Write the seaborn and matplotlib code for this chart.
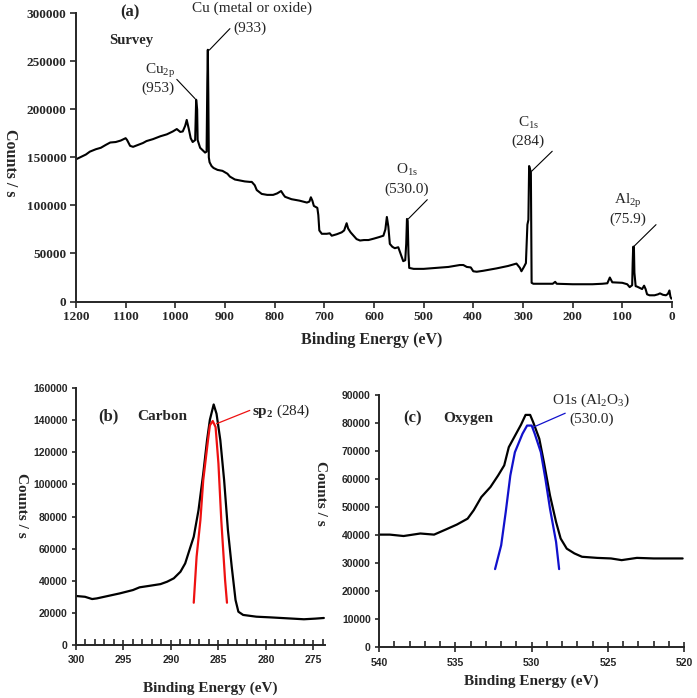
import numpy as np
import pandas as pd
import matplotlib
matplotlib.use("Agg")
import matplotlib.pyplot as plt
import seaborn as sns

# Survey spectrum (a)
survey_be = [1200, 1190, 1180, 1172, 1160, 1150, 1140, 1131, 1120, 1110, 1100, 1097, 1091, 1085,
             1075, 1065, 1058, 1045, 1030, 1017, 1005, 997, 990, 985, 980, 977, 973, 969, 965,
             960, 958, 956, 955, 950, 944, 940, 937, 935.5, 934.5, 933.5, 932.5, 931, 927, 923,
             915, 905, 895, 890, 880, 870, 860, 850, 846, 840, 836, 826, 815, 803, 795, 787, 782,
             779, 766, 750, 735, 730, 727, 724, 721, 714, 712, 710, 705, 695, 689, 685, 675, 665,
             660, 655, 652, 647, 640, 635, 628, 620, 611, 600, 590, 581, 577, 574, 571, 568, 563,
             558, 551, 545, 541, 537, 535, 533.5, 532, 530.5, 529, 520, 500, 474, 450, 427, 420,
             413, 405, 400, 393, 380, 353, 330, 313, 306, 303, 298, 294, 291, 289, 287.5, 286,
             284, 282.5, 279, 260, 240, 235, 232, 200, 160, 140, 130, 125, 120, 100, 90, 85, 80,
             79, 78, 76.5, 75.5, 73, 70, 60, 56, 53, 50, 45, 35, 28, 24, 18, 12, 8, 5, 3, 1]
survey_counts = [148000, 150500, 153000, 156000, 158500, 160000, 163000, 165500, 166000, 167500,
                 170000, 168000, 162000, 161000, 163000, 165000, 167000, 169000, 172000, 174000,
                 177000, 179500, 176500, 177000, 183000, 189000, 180000, 170000, 166000, 168000,
                 210000, 200000, 168000, 160000, 157000, 155000, 156000, 230000, 262000, 215000,
                 150000, 145000, 141000, 139000, 137000, 136000, 133000, 130000, 127000, 126000,
                 125000, 124500, 124500, 121000, 116000, 112000, 111000, 111000, 112500, 115000,
                 111000, 109000, 106500, 105000, 103000, 104000, 108500, 105000, 99500, 97500,
                 90000, 74000, 70500, 70500, 71000, 68500, 70000, 72000, 74000, 81500, 76000,
                 72000, 68000, 65000, 63500, 64000, 64000, 65500, 67000, 68500, 75000, 88000,
                 78000, 60000, 57000, 55500, 56500, 48000, 42000, 43000, 60000, 86000, 84000,
                 50000, 35000, 34000, 34000, 35000, 36000, 38000, 38000, 36000, 35500, 31500,
                 31000, 32000, 34500, 37000, 39500, 35000, 31500, 36000, 40000, 80000, 85000,
                 141000, 138000, 135000, 19500, 18500, 18500, 18500, 20500, 18500, 18000, 18000,
                 18500, 19000, 25000, 20000, 19500, 18000, 15000, 17000, 40000, 57000, 57000,
                 30000, 16000, 15500, 13000, 16500, 13000, 7500, 6500, 6500, 7500, 8500, 7000,
                 6500, 8000, 11500, 5000, 3000]

# Carbon region (b)
carbon_be = [300, 299.05, 298.3, 297.8, 295.4, 294.0, 293.3, 292.4, 291.1, 290.4, 289.7, 289.0,
             288.5, 288.0, 287.6, 287.1, 286.6, 286.2, 285.9, 285.5, 285.2, 284.8, 284.4, 284.0,
             283.6, 283.2, 282.9, 282.4, 281.0, 279.6, 277.8, 276.0, 274.8, 273.9]
carbon_counts = [30500, 30000, 28600, 29000, 32100, 34200, 35900, 36700, 37900, 39400, 41500,
                 45600, 50800, 60100, 67400, 83900, 106700, 127500, 140300, 149800, 144000, 127500,
                 102600, 71500, 48700, 28000, 20700, 18700, 17600, 17200, 16600, 16000, 16400, 16800]
sp2_be = [287.6, 287.3, 286.9, 286.6, 286.1, 285.9, 285.6, 285.3, 285.0, 284.7, 284.3, 284.1]
sp2_counts = [26300, 54900, 77700, 102600, 127500, 136800, 139500, 135700, 113000, 77700,
              40400, 26300]

# Oxygen region (c)
oxygen_be = [540, 539.3, 538.4, 537.3, 536.4, 535.6, 534.9, 534.2, 533.8, 533.3, 532.7, 532.2,
             531.8, 531.5, 531.2, 530.7, 530.4, 530.1, 529.9, 529.5, 529.2, 528.8, 528.4, 528.1,
             527.7, 527.2, 526.7, 525.7, 524.8, 524.1, 523.1, 522.0, 520.1]
oxygen_counts = [40200, 40200, 39700, 40600, 40200, 42100, 43800, 45900, 48900, 53600, 57200,
                 61300, 64900, 71400, 74400, 79400, 82900, 82900, 80300, 74400, 66100, 54200,
                 44700, 38800, 35200, 33500, 32300, 31900, 31700, 31100, 31900, 31700, 31700]
o1s_be = [532.4, 532.0, 531.7, 531.4, 531.1, 530.6, 530.3, 530.0, 529.8, 529.4, 529.1, 528.8,
          528.4, 528.2]
o1s_counts = [27900, 36400, 48300, 61300, 69600, 76200, 79100, 79100, 76200, 69600, 60100,
              49500, 37600, 27900]

sns.set_style("ticks")
plt.rcParams['font.family'] = ['Liberation Serif', 'DejaVu Serif']
plt.rcParams['mathtext.fontset'] = 'custom'
plt.rcParams['mathtext.rm'] = 'Liberation Serif'
plt.rcParams['mathtext.bf'] = 'Liberation Serif:bold'
plt.rcParams['mathtext.it'] = 'Liberation Serif:italic'
plt.rcParams['axes.linewidth'] = 1.4

fig = plt.figure(figsize=(6.97, 6.98), dpi=100)
ax_a = fig.add_axes([0.109, 0.568, 0.855, 0.413])
ax_b = fig.add_axes([0.109, 0.076, 0.357, 0.368])
ax_c = fig.add_axes([0.544, 0.0726, 0.4376, 0.3615])

df_a = pd.DataFrame({"be": survey_be, "counts": survey_counts})
df_b = pd.DataFrame({"be": carbon_be, "counts": carbon_counts})
df_b2 = pd.DataFrame({"be": sp2_be, "counts": sp2_counts})
df_c = pd.DataFrame({"be": oxygen_be, "counts": oxygen_counts})
df_c2 = pd.DataFrame({"be": o1s_be, "counts": o1s_counts})

sns.lineplot(data=df_a, x="be", y="counts", ax=ax_a, color="black", lw=1.5,
             sort=False, estimator=None)
sns.lineplot(data=df_b, x="be", y="counts", ax=ax_b, color="black", lw=1.6,
             sort=False, estimator=None)
sns.lineplot(data=df_b2, x="be", y="counts", ax=ax_b, color="#ee1111", lw=1.6,
             sort=False, estimator=None)
sns.lineplot(data=df_c, x="be", y="counts", ax=ax_c, color="black", lw=1.6,
             sort=False, estimator=None)
sns.lineplot(data=df_c2, x="be", y="counts", ax=ax_c, color="#1111cc", lw=1.6,
             sort=False, estimator=None)

for ax in (ax_a, ax_b, ax_c):
    sns.despine(ax=ax)
    ax.tick_params(width=1.2)

serif_bold = dict(family='Liberation Serif', weight='bold')
sans_bold = dict(family='Liberation Sans', weight='bold')

# --- (a) survey ---
ax_a.set_xlim(1200, 0)
ax_a.set_ylim(0, 300000)
ax_a.set_xticks(np.arange(0, 1201, 100))
ax_a.set_yticks(np.arange(0, 300001, 50000))
ax_a.tick_params(length=4, pad=3)
for lab in ax_a.get_xticklabels() + ax_a.get_yticklabels():
    lab.set_fontproperties(serif_bold)
    lab.set_fontsize(9.5)
ax_a.set_xlabel("Binding Energy (eV)", fontsize=11.5, fontweight='bold', va='center')
ax_a.xaxis.set_label_coords(0.497, -0.133)
ax_a.set_ylabel("Counts / s", fontsize=11.5, fontweight='bold', rotation=270,
                va='center', ha='center')
ax_a.yaxis.set_label_coords(-0.111, 0.48)

ax_a.text(1091, 301000, "(a)", fontsize=12, fontweight='bold', ha='center', va='center')
ax_a.text(1088, 272000, "Survey", fontsize=10.5, fontweight='bold', ha='center', va='center')
ax_a.text(846, 305000, "Cu (metal or oxide)", fontsize=11, ha='center', va='center')
ax_a.text(850, 284000, "(933)", fontsize=11, ha='center', va='center')
ax_a.text(1031, 240000, r"Cu$_{\mathrm{2p}}$", fontsize=11, ha='center', va='center')
ax_a.text(1034, 221500, "(953)", fontsize=11, ha='center', va='center')
ax_a.text(534, 136600, r"O$_{\mathrm{1s}}$", fontsize=11, ha='center', va='center')
ax_a.text(534, 117200, "(530.0)", fontsize=11, ha='center', va='center')
ax_a.text(289, 186000, r"C$_{\mathrm{1s}}$", fontsize=11, ha='center', va='center')
ax_a.text(289, 166800, "(284)", fontsize=11, ha='center', va='center')
ax_a.text(88, 104300, r"Al$_{\mathrm{2p}}$", fontsize=11, ha='center', va='center')
ax_a.text(88, 85200, "(75.9)", fontsize=11, ha='center', va='center')

leader = dict(arrowstyle='-', color='black', lw=0.8, shrinkA=0, shrinkB=0)
ax_a.annotate("", xy=(931.5, 261700), xytext=(890, 284000), arrowprops=leader)
ax_a.annotate("", xy=(960, 211000), xytext=(997, 231200), arrowprops=leader)
ax_a.annotate("", xy=(531, 85900), xytext=(492.6, 106000), arrowprops=leader)
ax_a.annotate("", xy=(282.5, 135600), xytext=(241, 156400), arrowprops=leader)
ax_a.annotate("", xy=(76.5, 57400), xytext=(32, 80000), arrowprops=leader)

# --- (b) carbon ---
ax_b.set_xlim(300, 273.8)
ax_b.set_ylim(0, 160000)
ax_b.set_xticks(np.arange(275, 301, 5))
ax_b.set_xticks(np.arange(274, 301, 1), minor=True)
ax_b.set_yticks(np.arange(0, 160001, 20000))

# --- (c) oxygen ---
ax_c.set_xlim(540, 520)
ax_c.set_ylim(0, 90000)
ax_c.set_xticks(np.arange(520, 541, 5))
ax_c.set_xticks(np.arange(520, 541, 1), minor=True)
ax_c.set_yticks(np.arange(0, 90001, 10000))

for ax in (ax_b, ax_c):
    ax.tick_params(axis='x', which='major', direction='inout', length=7, pad=4)
    ax.tick_params(axis='x', which='minor', direction='in', length=4, width=1.2)
    ax.tick_params(axis='y', length=3, pad=3)
    for lab in ax.get_xticklabels() + ax.get_yticklabels():
        lab.set_fontproperties(sans_bold)
        lab.set_fontsize(7.5)
    ax.set_xlabel("Binding Energy (eV)", fontsize=11, fontweight='bold', va='center')
    ax.set_ylabel("Counts / s", fontsize=11, fontweight='bold', rotation=270,
                  va='center', ha='center')

ax_b.xaxis.set_label_coords(0.538, -0.168)
ax_b.yaxis.set_label_coords(-0.217, 0.545)
ax_c.xaxis.set_label_coords(0.50, -0.136)
ax_c.yaxis.set_label_coords(-0.193, 0.61)

ax_b.text(297.7, 142600, "(b)", fontsize=12, fontweight='bold', ha='left', va='center')
ax_b.text(293.6, 142600, "Carbon", fontsize=11, fontweight='bold', ha='left', va='center')
ax_b.text(281.5, 145700, r"$\mathbf{sp}_{\mathbf{2}}$ (284)", fontsize=11,
          ha='left', va='center')
ax_b.annotate("", xy=(285.2, 137800), xytext=(281.7, 146100),
              arrowprops=dict(arrowstyle='-', color='#ee1111', lw=0.9, shrinkA=0, shrinkB=0))

ax_c.text(538.4, 81500, "(c)", fontsize=12, fontweight='bold', ha='left', va='center')
ax_c.text(535.8, 81500, "Oxygen", fontsize=11, fontweight='bold', ha='left', va='center')
ax_c.text(526.1, 88000, r"O1s (Al$_{\mathrm{2}}$O$_{\mathrm{3}}$)", fontsize=11,
          ha='center', va='center')
ax_c.text(526.1, 81500, "(530.0)", fontsize=11, ha='center', va='center')
ax_c.annotate("", xy=(529.9, 78500), xytext=(527.8, 83500),
              arrowprops=dict(arrowstyle='-', color='#1111cc', lw=0.9, shrinkA=0, shrinkB=0))

fig.savefig("out.png", dpi=100)
